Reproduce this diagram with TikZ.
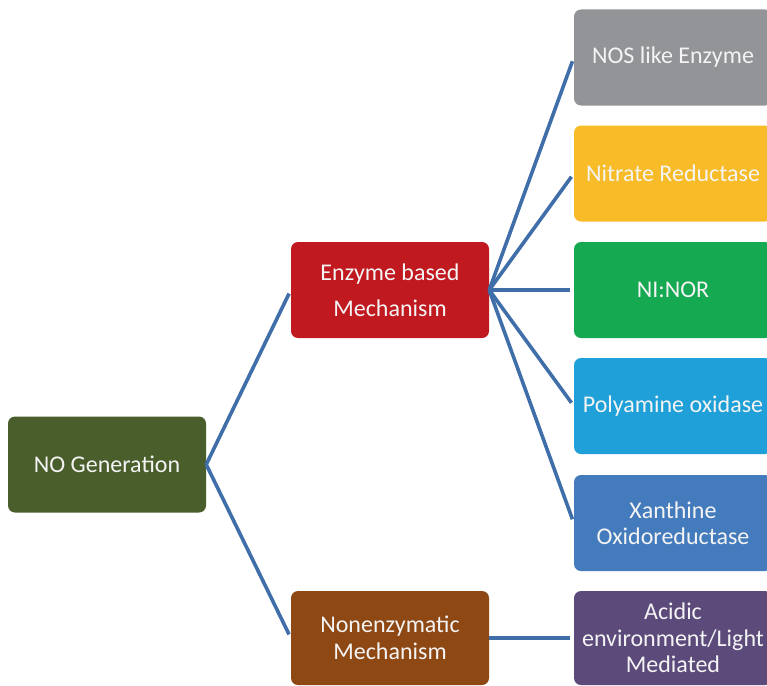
\documentclass[tikz,border=0pt]{standalone}
\usepackage{fontspec}
\setmainfont{Carlito}
\definecolor{linkblue}{HTML}{3F6EA8}
\definecolor{rootgreen}{HTML}{4A5E2C}
\definecolor{enzred}{HTML}{C0191F}
\definecolor{nonbrown}{HTML}{8E4814}
\definecolor{nosgray}{HTML}{929497}
\definecolor{nitrateyellow}{HTML}{F7BC28}
\definecolor{norgreen}{HTML}{15A951}
\definecolor{polyblue}{HTML}{1FA0D8}
\definecolor{xanblue}{HTML}{437BBD}
\definecolor{acidpurple}{HTML}{5B4A7A}
\definecolor{boxtext}{HTML}{F4F4F4}
\begin{document}
\begin{tikzpicture}[x=1pt,y=-1pt,
  box/.style={rectangle, rounded corners=7pt, minimum width=198pt, minimum height=96pt,
    inner sep=1pt, align=center, text=boxtext, font=\fontsize{24}{26.5}\selectfont},
  link/.style={draw=linkblue, line width=3.6pt, shorten >=4pt}]
\useasboundingbox (0,0) rectangle (767,685);
\clip (0,0) rectangle (767,685);

% root and second level
\node[box, fill=rootgreen] (root) at (107,464.5) {NO Generation};
\node[box, fill=enzred, font=\fontsize{24}{36}\selectfont] (enz) at (390,290) {Enzyme based\\Mechanism};
\node[box, fill=nonbrown, minimum height=94pt] (non) at (390,638) {Nonenzymatic\\Mechanism};

% leaves
\node[box, fill=nosgray] (nos) at (673,57.5) {NOS like Enzyme};
\node[box, fill=nitrateyellow] (nitrate) at (673,173.5) {Nitrate Reductase};
\node[box, fill=norgreen] (nor) at (673,290) {NI:NOR};
\node[box, fill=polyblue] (poly) at (673,406) {Polyamine oxidase};
\node[box, fill=xanblue] (xan) at (673,523) {Xanthine\\Oxidoreductase};
\node[box, fill=acidpurple, minimum height=94pt] (acid) at (673,638) {Acidic\\environment/Light\\Mediated};

% connectors
\draw[link] (root.east) -- (enz.west);
\draw[link] (root.east) -- (non.west);
\foreach \leaf in {nos,nitrate,nor,poly,xan}
  \draw[link] (enz.east) -- (\leaf.west);
\draw[link] (non.east) -- (acid.west);
\end{tikzpicture}
\end{document}
